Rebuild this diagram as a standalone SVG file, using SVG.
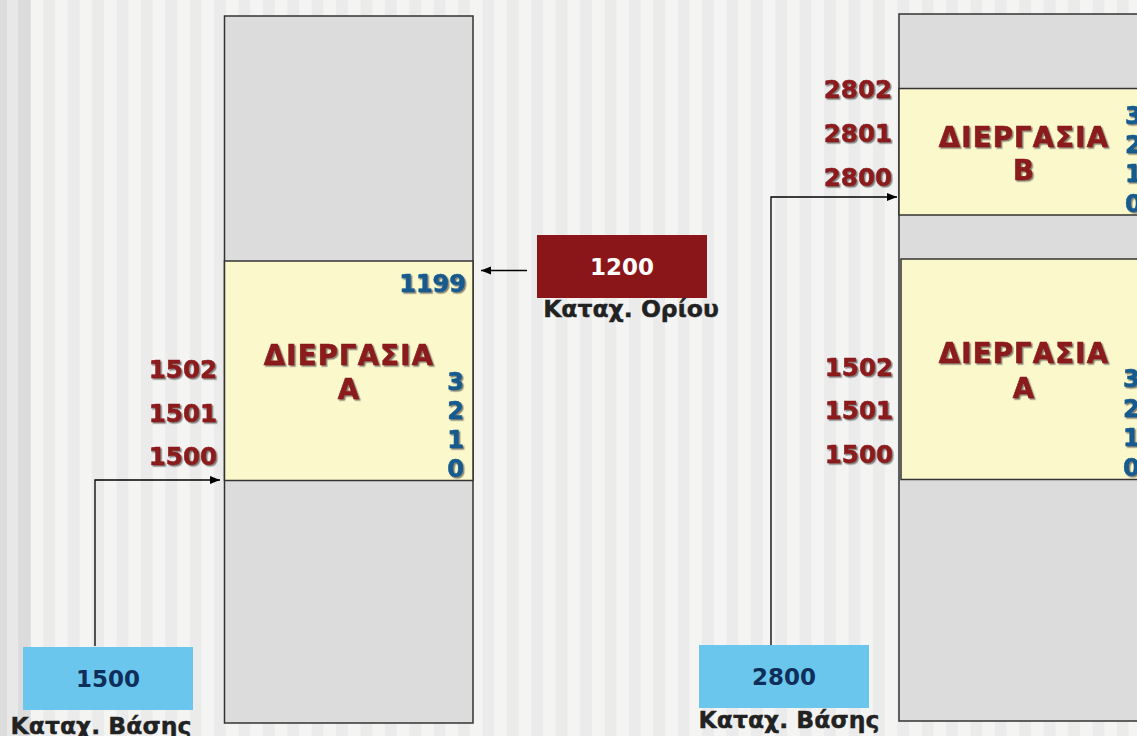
<svg xmlns="http://www.w3.org/2000/svg" width="1137" height="736" viewBox="0 0 1137 736">
<defs>
<pattern id="stripes" x="30.7" y="0" width="24.4" height="10" patternUnits="userSpaceOnUse">
<rect x="0" y="0" width="12.2" height="10" fill="#f4f4f3"/>
<rect x="12.2" y="0" width="12.2" height="10" fill="#ecebeb"/>
</pattern>
<filter id="sh" x="-10%" y="-20%" width="130%" height="150%">
<feDropShadow dx="1.5" dy="1.5" stdDeviation="0.6" flood-color="#333" flood-opacity="0.6"/>
</filter>
<marker id="ah" viewBox="0 0 10 10" refX="10" refY="5" markerWidth="10" markerHeight="10" markerUnits="userSpaceOnUse" orient="auto">
<path d="M0,1 L10,5 L0,9 Z" fill="#000"/>
</marker>
</defs>
<style>
text{font-family:"DejaVu Sans",Verdana,sans-serif;font-weight:bold}
.grey{fill:#dcdcdc;stroke:#333;stroke-width:1.5}
.yel{fill:#fbf8cc;stroke:#333;stroke-width:1.5}
.addr{fill:#8b1a1c;stroke:#8b1a1c;stroke-width:0.6;font-size:24.5px;text-anchor:end;filter:url(#sh)}
.title{fill:#8b1a1c;stroke:#8b1a1c;stroke-width:0.7;font-size:27.5px;text-anchor:middle;letter-spacing:1.2px;filter:url(#sh)}
.off{fill:#155a8e;stroke:#155a8e;stroke-width:0.6;font-size:24px;text-anchor:end;filter:url(#sh)}
.offs{fill:#155a8e;stroke:#155a8e;stroke-width:0.6;font-size:24px;text-anchor:start;filter:url(#sh)}
.reg{font-size:23px;text-anchor:middle}
.cap{fill:#222;stroke:#222;stroke-width:0.4;font-size:23.5px;text-anchor:middle}
.con{fill:none;stroke:#000;stroke-width:1.3}
</style>
<rect x="0" y="0" width="1137" height="736" fill="url(#stripes)"/>
<rect x="0" y="0" width="7" height="736" fill="#dcdcdc"/>
<rect x="7" y="0" width="11" height="736" fill="#e8e8e8"/>
<rect x="18" y="0" width="12.7" height="736" fill="#dcdcdc"/>

<g id="memory-left">
<rect class="grey" x="224.5" y="16" width="248.5" height="707"/>
<rect class="yel" x="224.5" y="261" width="248.5" height="219.5"/>
<text class="title" x="349" y="365">ΔΙΕΡΓΑΣΙΑ</text>
<text class="title" x="349" y="399">A</text>
<text class="off" x="466" y="292">1199</text>
<text class="off" x="464" y="390">3</text>
<text class="off" x="464" y="419">2</text>
<text class="off" x="464" y="448">1</text>
<text class="off" x="464" y="477">0</text>
<text class="addr" x="217" y="378">1502</text>
<text class="addr" x="217" y="422">1501</text>
<text class="addr" x="217" y="465">1500</text>
</g>

<g id="base-left">
<rect x="23" y="647" width="170" height="63" fill="#6ac6ec"/>
<text class="reg" x="108" y="687" fill="#0f2f5a">1500</text>
<text class="cap" x="101" y="734">Καταχ. Βάσης</text>
</g>

<g id="limit">
<rect x="537" y="235" width="170" height="63" fill="#8b1619"/>
<text class="reg" x="622" y="275" fill="#ffffff">1200</text>
<text class="cap" x="631" y="317">Καταχ. Ορίου</text>
</g>

<g id="memory-right">
<rect class="grey" x="899" y="14" width="245" height="707"/>
<rect class="yel" x="899" y="88.5" width="245" height="126.5"/>
<rect class="yel" x="901" y="259" width="243" height="220.5"/>
<text class="title" x="1024" y="147">ΔΙΕΡΓΑΣΙΑ</text>
<text class="title" x="1024" y="180">B</text>
<text class="title" x="1024" y="363">ΔΙΕΡΓΑΣΙΑ</text>
<text class="title" x="1024" y="398">A</text>
<text class="offs" x="1125" y="124">3</text>
<text class="offs" x="1125" y="153">2</text>
<text class="offs" x="1125" y="182">1</text>
<text class="offs" x="1125" y="212">0</text>
<text class="offs" x="1123" y="387">3</text>
<text class="offs" x="1123" y="417">2</text>
<text class="offs" x="1123" y="446">1</text>
<text class="offs" x="1123" y="476">0</text>
<text class="addr" x="892" y="98">2802</text>
<text class="addr" x="892" y="142">2801</text>
<text class="addr" x="892" y="186">2800</text>
<text class="addr" x="893" y="376">1502</text>
<text class="addr" x="893" y="419">1501</text>
<text class="addr" x="893" y="463">1500</text>
</g>

<g id="base-right">
<rect x="699" y="645" width="170" height="63" fill="#6ac6ec"/>
<text class="reg" x="784" y="685" fill="#0f2f5a">2800</text>
<text class="cap" x="789" y="728">Καταχ. Βάσης</text>
</g>

<g id="connectors">
<path class="con" d="M95,646 V480 H220" marker-end="url(#ah)"/>
<path class="con" d="M527,270.5 H481" marker-end="url(#ah)"/>
<path class="con" d="M771,645 V197 H897" marker-end="url(#ah)"/>
</g>
</svg>
